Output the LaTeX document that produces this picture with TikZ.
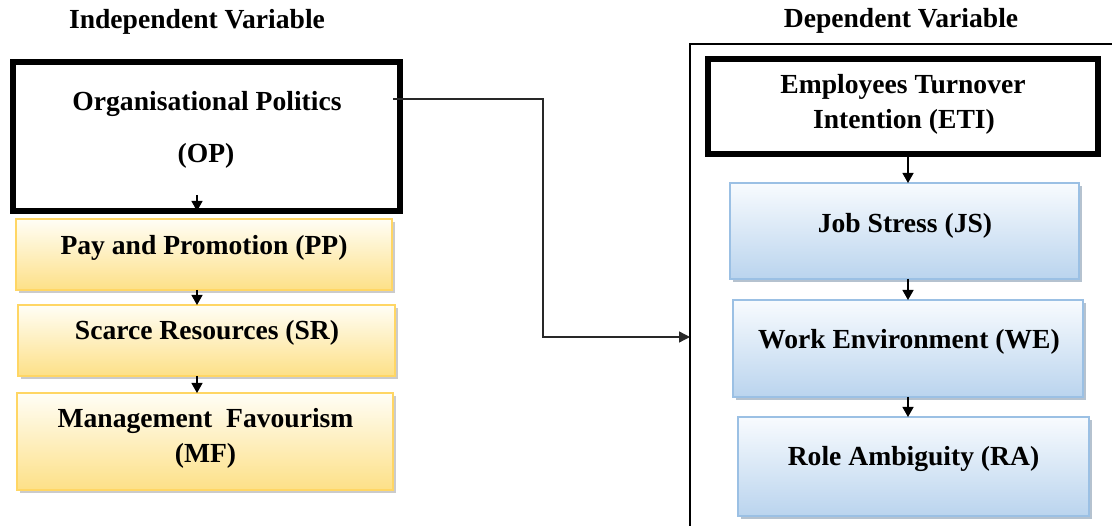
\documentclass[tikz,border=0pt]{standalone}
\usepackage{fontspec}
\setmainfont{Liberation Serif}
\usetikzlibrary{arrows.meta,shadows,calc}
\definecolor{ybord}{RGB}{255,214,100}
\definecolor{ybot}{RGB}{253,224,135}
\definecolor{ytop}{RGB}{255,254,246}
\definecolor{bbord}{RGB}{155,192,228}
\definecolor{bbot}{RGB}{186,212,238}
\definecolor{btop}{RGB}{248,251,254}
\definecolor{conn}{RGB}{40,40,40}
\begin{document}
\begin{tikzpicture}[x=1pt,y=-1pt,
  font=\fontsize{27.6}{35}\selectfont\bfseries,
  lbl/.style={anchor=base,inner sep=0pt},
  thickbox/.style={draw=black,line width=5.5pt,fill=white,inner sep=0pt,outer sep=0pt},
  ybox/.style={draw=ybord,line width=1.4pt,top color=ytop,bottom color=ybot,inner sep=0pt,outer sep=0pt,
    drop shadow={shadow xshift=3pt,shadow yshift=-3pt,opacity=0.45,fill=black!45}},
  bbox/.style={draw=bbord,line width=1.4pt,top color=btop,bottom color=bbot,inner sep=0pt,outer sep=0pt,
    drop shadow={shadow xshift=3pt,shadow yshift=-3pt,opacity=0.5,fill=bbord!70!black}},
  arr/.style={draw=black,line width=1.3pt,-{Triangle[length=10pt,width=11pt]}},
  conarr/.style={draw=conn,line width=1.3pt,-{Triangle[length=11pt,width=11pt]}}]
\useasboundingbox (0,0) rectangle (1112,526);
\fill[white] (0,0) rectangle (1112,526);

% titles
\node[lbl] (tiv) at (197,29) {Independent Variable};
\node[lbl] (tdv) at (901,28) {Dependent Variable};

% dependent variable frame (open to right and bottom)
\coordinate (dvc) at (690,44);
\coordinate (dvin) at (690,337);
\draw[line width=1.3pt] (dvc |- 0,530) -- (dvc) -- (1116,44);

% left column
\node[thickbox,minimum width=387pt,minimum height=149pt] (OP) at (206.5,136.5) {};
\node[ybox,minimum width=376pt,minimum height=71pt] (PP) at (204,254.5) {};
\node[ybox,minimum width=377pt,minimum height=71pt] (SR) at (206.5,340.5) {};
\node[ybox,minimum width=376pt,minimum height=97pt] (MF) at (205,441.5) {};

\node[lbl] (OPt1) at (207,111) {Organisational Politics};
\node[lbl] (OPt2) at (206,163) {(OP)};
\node[lbl] (PPt) at (204,255) {Pay and Promotion (PP)};
\node[lbl] (SRt) at (207,340) {Scarce Resources (SR)};
\node[lbl] (MFt1) at (205.5,428) {Management\ \ Favourism};
\node[lbl] (MFt2) at (205.5,463) {(MF)};

% right column
\node[thickbox,minimum width=390pt,minimum height=95pt] (ETI) at (903,106.5) {};
\node[bbox,minimum width=349pt,minimum height=96pt] (JS) at (904.5,231) {};
\node[bbox,minimum width=350pt,minimum height=97pt] (WE) at (908,348.5) {};
\node[bbox,minimum width=351pt,minimum height=99pt] (RA) at (913.5,466.5) {};

\node[lbl] (ETIt1) at (903,94) {Employees Turnover};
\node[lbl] (ETIt2) at (904,129) {Intention (ETI)};
\node[lbl] (JSt) at (905,233) {Job Stress (JS)};
\node[lbl] (WEt) at (909,349) {Work Environment (WE)};
\node[lbl] (RAt) at (913.5,466) {Role Ambiguity (RA)};

% arrows within columns
\coordinate (lc) at (197,0);
\coordinate (rc) at (908,0);
\draw[arr] ([yshift=16pt]OP.south -| lc) -- (OP.south -| lc);
\draw[arr] (PP.south -| lc) -- (SR.north -| lc);
\draw[arr] (SR.south -| lc) -- (MF.north -| lc);
\draw[arr] (ETI.south -| rc) -- (JS.north -| rc);
\draw[arr] (JS.south -| rc) -- (WE.north -| rc);
\draw[arr] (WE.south -| rc) -- (RA.north -| rc);

% main connector
\coordinate (opout) at (393,99);
\draw[conarr] (opout) -- ++(150,0) |- (dvin);
\end{tikzpicture}
\end{document}
